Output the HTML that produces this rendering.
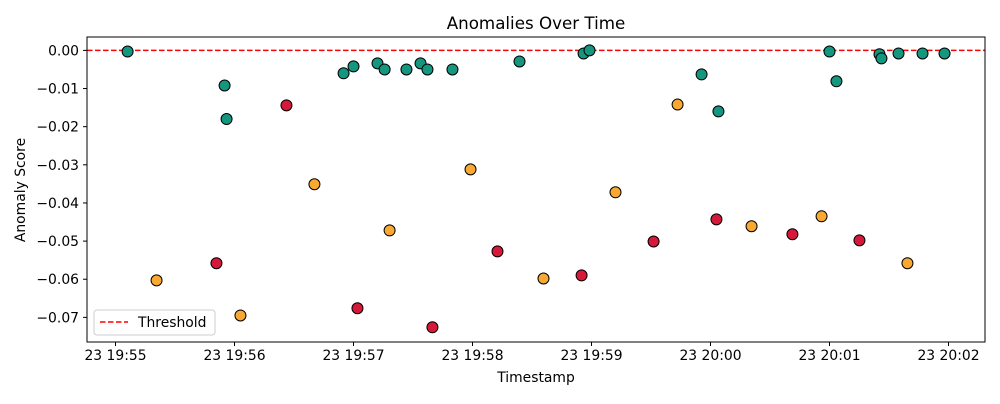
<!DOCTYPE html>
<html><head><meta charset="utf-8"><style>
body{margin:0;background:#fff;font-family:"DejaVu Sans","Liberation Sans",sans-serif}
</style></head><body>
<svg id="chart" width="1000" height="400" xmlns="http://www.w3.org/2000/svg" font-family="DejaVu Sans, Liberation Sans, sans-serif">
</svg>
<script>
const tickLabels=["23 19:55","23 19:56","23 19:57","23 19:58","23 19:59","23 20:00","23 20:01","23 20:02"];
const yTicks=[0,-0.01,-0.02,-0.03,-0.04,-0.05,-0.06,-0.07];
const normalT=[6.1,55.0,56.0,115.0,120.0,132.1,135.7,146.7,153.8,157.3,169.9,203.7,236.0,239.0,295.5,304.0,360.0,363.5,385.2,386.2,394.8,406.9,418.0];
const normalV=[-0.0003,-0.0092,-0.018,-0.006,-0.0042,-0.0034,-0.005,-0.005,-0.0034,-0.005,-0.005,-0.0029,-0.0008,0,-0.0063,-0.016,-0.0003,-0.0081,-0.001,-0.0021,-0.0008,-0.0008,-0.0008];
const mediumT=[20.7,63.0,100.3,138.2,179.0,215.8,252.1,283.4,320.7,356.0,399.3];
const mediumV=[-0.0603,-0.0695,-0.0351,-0.0472,-0.0312,-0.0598,-0.0372,-0.0142,-0.0461,-0.0435,-0.0558];
const highT=[50.9,86.2,122.0,159.8,192.6,235.0,271.3,303.0,341.3,375.1];
const highV=[-0.0558,-0.0144,-0.0676,-0.0726,-0.0527,-0.059,-0.0501,-0.0443,-0.0482,-0.0498];
const threshold=0;

const NS="http://www.w3.org/2000/svg";
const svg=document.getElementById('chart');
const L=87,R=985,T=37,B=342;
const xs=s=>115.5+s/60*119;
const ys=v=>50.4-v*3814;
function mk(tag,attrs,parent){const e=document.createElementNS(NS,tag);for(const k in attrs)e.setAttribute(k,attrs[k]);(parent||svg).appendChild(e);return e;}

let t=mk('text',{x:536,y:29,'text-anchor':'middle','font-size':16.7,fill:'#000'});t.textContent='Anomalies Over Time';



tickLabels.forEach((lab,i)=>{const x=xs(i*60);
 const l=mk('line',{x1:x,x2:x,y1:B,y2:B+4,stroke:'#000'});
 
 
 const tx=mk('text',{x:x,y:B+18,'text-anchor':'middle','font-size':13.9});tx.textContent=lab;
 
 
});
yTicks.forEach(v=>{const y=ys(v);
 const l=mk('line',{x1:L-4,x2:L,y1:y,y2:y,stroke:'#000'});
 
 
 const tx=mk('text',{x:L-8,y:y+5,'text-anchor':'end','font-size':13.9});tx.textContent=(v<0?'\u2212':'')+Math.abs(v).toFixed(2);
 
 
});
let xt=mk('text',{x:536,y:382,'text-anchor':'middle','font-size':13.9});xt.textContent='Timestamp';


let yt=mk('text',{x:25,y:190,'text-anchor':'middle','font-size':13.9,transform:'rotate(-90 25 190)'});yt.textContent='Anomaly Score';



let th=mk('line',{x1:L,x2:R,y1:ys(threshold),y2:ys(threshold),stroke:'#f00','stroke-width':1.5,'stroke-dasharray':'5.5,2.5'});



function series(ts,vs,color,name){ts.forEach((s,i)=>{
 const c=mk('circle',{cx:xs(s),cy:ys(vs[i]),r:5.5,fill:color,stroke:'#000','stroke-width':1});
 
 
});}
series(normalT,normalV,'#15967f','point-normal');
series(mediumT,mediumV,'#f9a832','point-medium');
series(highT,highV,'#d6193a','point-high');

let fr=mk('rect',{x:L,y:T,width:R-L,height:B-T,fill:'none',stroke:'#000','stroke-width':1});



const lg=mk('g',{});


mk('rect',{x:94,y:310,width:121,height:25,rx:3,fill:'#fff',stroke:'#ccc'},lg);
mk('line',{x1:100,x2:128,y1:322,y2:322,stroke:'#f00','stroke-width':1.5,'stroke-dasharray':'5.5,2.5'},lg);
const lt=mk('text',{x:138,y:327,'font-size':13.9},lg);lt.textContent='Threshold';
</script>
</body></html>
